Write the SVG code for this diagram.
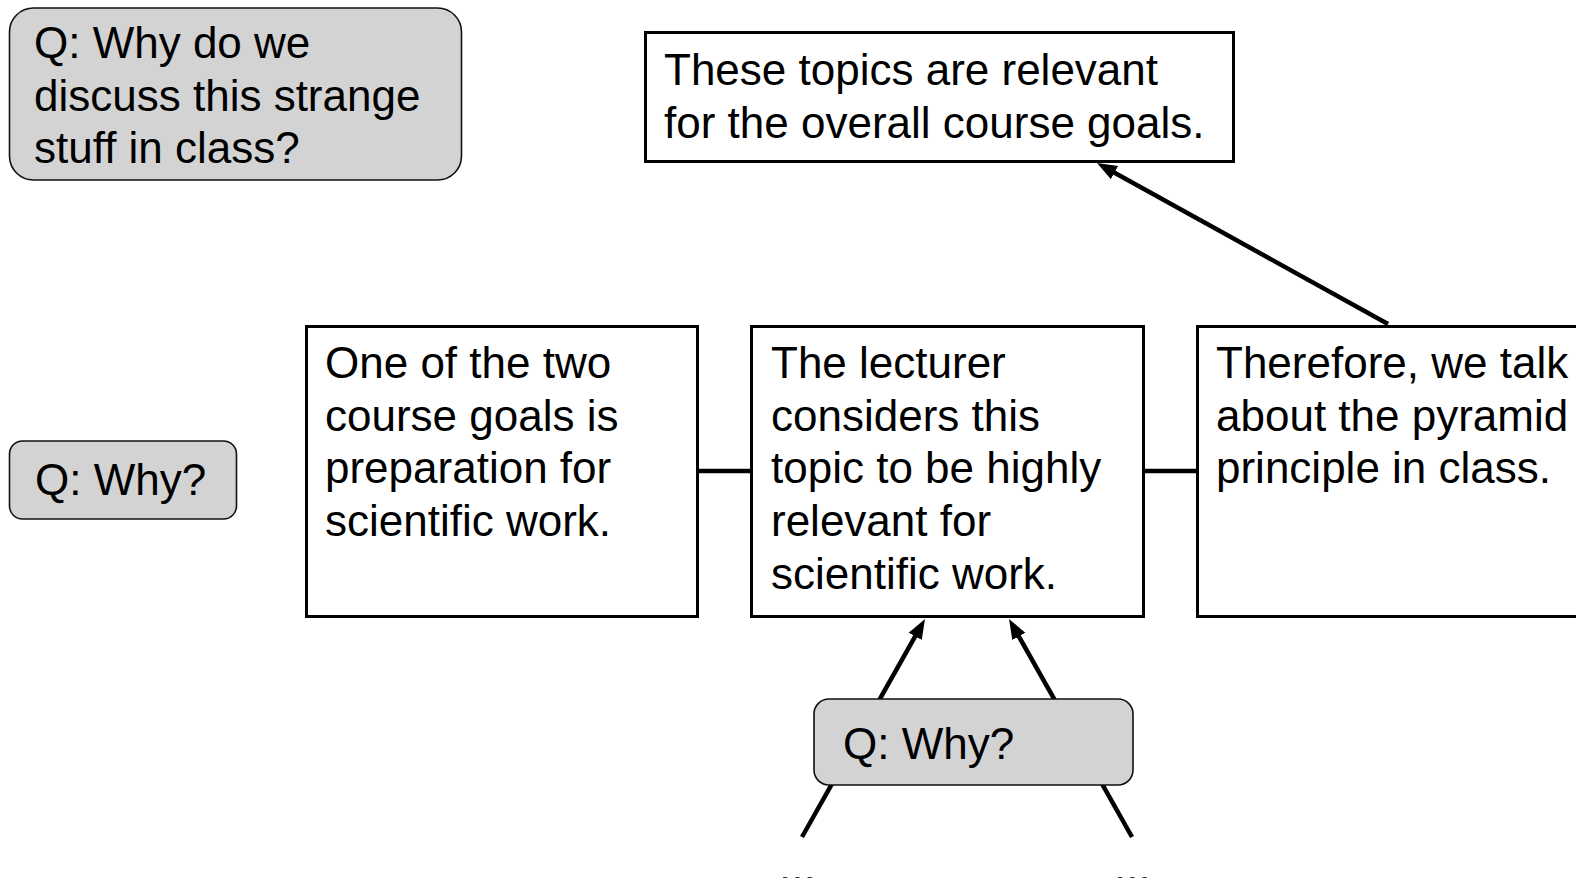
<svg xmlns="http://www.w3.org/2000/svg" width="1576" height="878" viewBox="0 0 1576 878">
<style>
  text { font-family: "Liberation Sans", Arial, sans-serif; font-size: 44px; fill: #000; }
  .box { fill: #fff; stroke: #000; stroke-width: 3; }
  .q { fill: #d3d3d3; stroke: #111; stroke-width: 1.6; }
  .conn { stroke: #000; stroke-width: 4.5; fill: none; }
</style>
<defs>
  <marker id="arr" markerUnits="userSpaceOnUse" markerWidth="24" markerHeight="18" viewBox="0 -9 24 18" refX="2" refY="0" orient="auto">
    <path d="M0,-7.5 L20,0 L0,7.5 z" fill="#000"/>
  </marker>
</defs>
<rect width="1576" height="878" fill="#fff"/>
<g id="connectors">
  <line class="conn" x1="802" y1="837" x2="916.15" y2="634.68" marker-end="url(#arr)"/>
  <line class="conn" x1="1132" y1="837" x2="1017.85" y2="634.68" marker-end="url(#arr)"/>
  <line class="conn" x1="1388" y1="324" x2="1112.75" y2="171.71" marker-end="url(#arr)"/>
  <line class="conn" x1="699" y1="471" x2="750" y2="471"/>
  <line class="conn" x1="1145" y1="471" x2="1196" y2="471"/>
</g>
<g id="q-main">
  <rect class="q" x="9.5" y="8" width="452" height="172" rx="24" ry="24"/>
  <text x="34" y="58">Q: Why do we</text>
  <text x="34" y="110.5">discuss this strange</text>
  <text x="34" y="163">stuff in class?</text>
</g>
<g id="q-left">
  <rect class="q" x="9.5" y="441" width="227" height="78" rx="13" ry="13"/>
  <text x="35" y="495">Q: Why?</text>
</g>
<g id="goals">
  <rect class="box" x="645.5" y="32.5" width="588" height="129"/>
  <text x="664" y="85">These topics are relevant</text>
  <text x="664" y="138">for the overall course goals.</text>
</g>
<g id="course-goals">
  <rect class="box" x="306.5" y="326.5" width="391" height="290"/>
  <text x="325" y="378">One of the two</text>
  <text x="325" y="431">course goals is</text>
  <text x="325" y="483">preparation for</text>
  <text x="325" y="536">scientific work.</text>
</g>
<g id="lecturer">
  <rect class="box" x="751.5" y="326.5" width="392" height="290"/>
  <text x="771" y="378">The lecturer</text>
  <text x="771" y="431">considers this</text>
  <text x="771" y="483">topic to be highly</text>
  <text x="771" y="536">relevant for</text>
  <text x="771" y="589">scientific work.</text>
</g>
<g id="therefore">
  <rect class="box" x="1197.5" y="326.5" width="392" height="290"/>
  <text x="1216" y="378">Therefore, we talk</text>
  <text x="1216" y="431">about the pyramid</text>
  <text x="1216" y="483">principle in class.</text>
</g>
<g id="q-bottom">
  <rect class="q" x="814" y="699" width="319" height="86" rx="15" ry="15"/>
  <text x="843" y="759">Q: Why?</text>
</g>
<g id="more-left">
  <text x="779" y="882">...</text>
</g>
<g id="more-right">
  <text x="1114" y="882">...</text>
</g>
</svg>
